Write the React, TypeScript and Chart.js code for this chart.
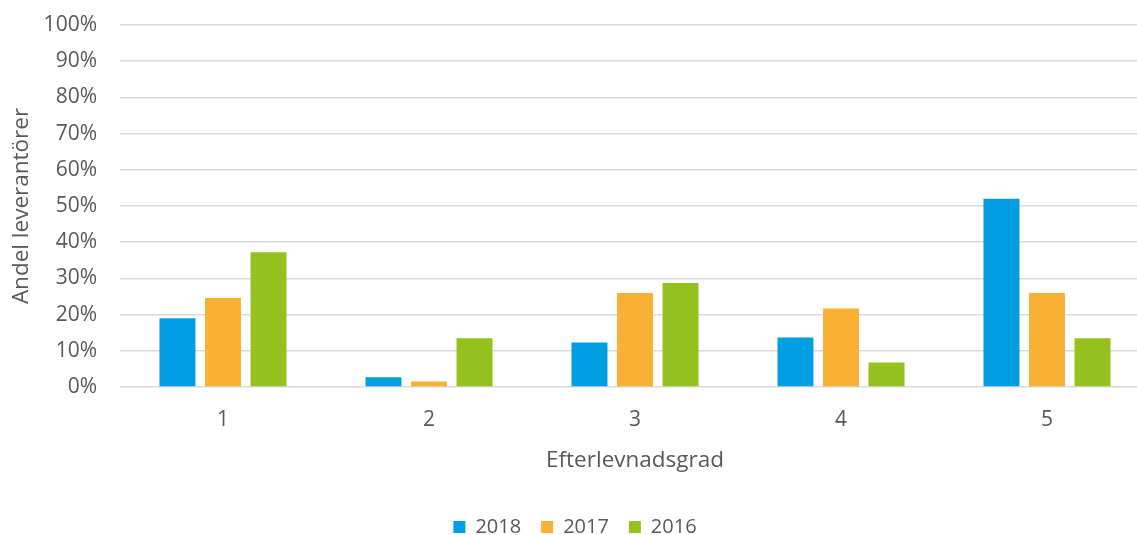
import React, { useEffect, useRef } from "react";
import { Chart, registerables } from "chart.js";

Chart.register(...registerables);

const categories = ["1", "2", "3", "4", "5"];
const series2018 = [19.0, 2.7, 12.3, 13.7, 52.0];
const series2017 = [24.6, 1.5, 26.0, 21.7, 26.0];
const series2016 = [37.2, 13.5, 28.7, 6.8, 13.5];
const seriesLabels = ["2018", "2017", "2016"];
const yTicks = [0, 10, 20, 30, 40, 50, 60, 70, 80, 90, 100];

const FONT = "'Open Sans', Lato, sans-serif";
const TEXT = "#595959";

export default function App() {
  const ref = useRef<HTMLCanvasElement | null>(null);

  useEffect(() => {
    document.body.style.margin = "0";
    document.body.style.overflow = "hidden";
    const ctx = ref.current!;
    const chart = new Chart(ctx, {
      type: "bar",
      data: {
        labels: categories,
        datasets: [
          { label: seriesLabels[0], data: series2018, backgroundColor: "#009FE3" },
          { label: seriesLabels[1], data: series2017, backgroundColor: "#F8B133" },
          { label: seriesLabels[2], data: series2016, backgroundColor: "#95C11F" },
        ],
      },
      options: {
        animation: false,
        responsive: false,
        maintainAspectRatio: false,
        layout: { padding: { top: 25, left: 0, right: 0, bottom: -12 } },
        datasets: {
          bar: { categoryPercentage: 0.663, barPercentage: 0.79 },
        },
        plugins: {
          tooltip: { enabled: false },
          legend: {
            position: "bottom",
            labels: {
              boxWidth: 12,
              boxHeight: 12,
              padding: 20,
              color: TEXT,
              font: { family: FONT, size: 20 },
            },
          },
        },
        scales: {
          x: {
            afterFit: (scale: any) => {
              scale.height = 110;
              scale.paddingLeft = 0;
              scale.paddingRight = 0;
            },
            grid: { display: false },
            border: { display: false },
            ticks: { color: TEXT, font: { family: FONT, size: 21 }, padding: 12 },
            title: {
              display: true,
              text: "Efterlevnadsgrad",
              color: TEXT,
              font: { family: FONT, size: 22.5 },
              padding: { top: 0, bottom: 23 },
            },
          },
          y: {
            min: 0,
            max: 100,
            afterBuildTicks: (scale: any) => {
              scale.ticks = yTicks.map((v) => ({ value: v }));
            },
            afterFit: (scale: any) => {
              scale.width = 120;
              scale.paddingTop = 0;
              scale.paddingBottom = 0;
            },
            grid: { color: "#D9D9D9", lineWidth: 1.5, drawTicks: false },
            border: { display: false },
            ticks: {
              color: TEXT,
              font: { family: FONT, size: 21 },
              padding: 23,
              callback: (v: any) => v + "%",
            },
            title: {
              display: true,
              text: "Andel leverantörer",
              color: TEXT,
              font: { family: FONT, size: 22.5 },
              padding: { top: 8, bottom: 0 },
            },
          },
        },
      },
    });
    return () => chart.destroy();
  }, []);

  return (
    <div style={{ width: 1150, height: 535 }}>
      <canvas ref={ref} width={1150} height={535} style={{ width: 1150, height: 535 }} />
    </div>
  );
}
